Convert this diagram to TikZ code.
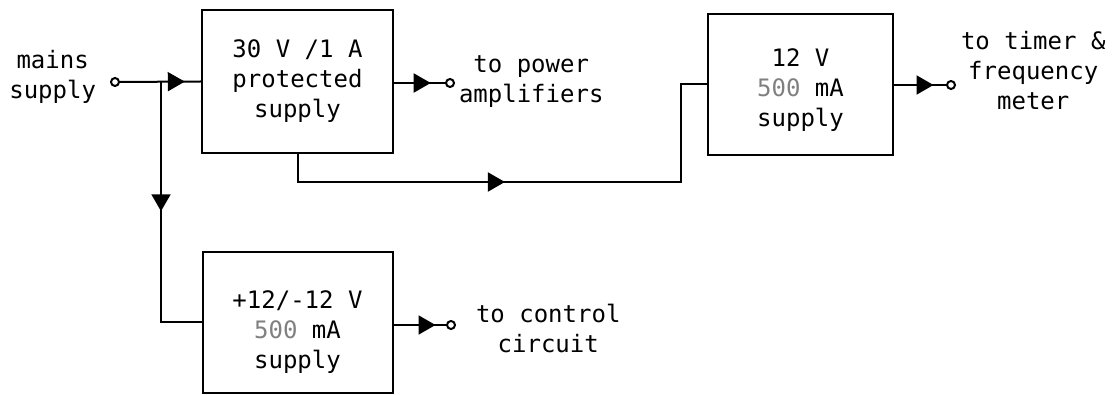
\documentclass[tikz,border=0pt]{standalone}
\usepackage{fontspec}
\setmonofont{DejaVu Sans Mono}
\usetikzlibrary{arrows.meta,decorations.markings}
% text of a block, drawn a little lower than the block's middle
\newcommand{\lowtext}[2]{\raisebox{-#1}[\height][\depth]{\begin{tabular}{@{}c@{}}#2\end{tabular}}}
\begin{document}
\begin{tikzpicture}[x=0.5pt,y=-0.5pt, line width=1pt,
  every node/.style={font=\ttfamily\fontsize{12}{15}\selectfont},
  blk/.style={draw,align=center,inner sep=0pt},
  term/.style={draw,circle,fill=white,inner sep=0pt,minimum size=4pt},
  lbl/.style={align=center,inner sep=0pt},
  flow/.style={postaction={decorate},decoration={markings,
    mark=at position #1 with {\arrow{Triangle[length=8.5pt,width=9.5pt]}}}}]
\useasboundingbox (0,0) rectangle (1116,395);
% supply blocks
\node[blk,minimum width=95.5pt,minimum height=71.5pt] (p1) at (297.5,81.5) {30 V /1 A\\protected\\supply};
\node[blk,minimum width=92.5pt,minimum height=70.5pt] (p2) at (800.5,84.5) {\lowtext{3.25pt}{12 V\\{\color{black!50}500} mA\\supply}};
\node[blk,minimum width=95pt,minimum height=70.5pt] (p3) at (297.5,322.5) {\lowtext{5pt}{+12/-12 V\\{\color{black!50}500} mA\\supply}};
% terminals
\node[term] (tin) at (115,82) {};
\node[term] (t1) at (450,83) {};
\node[term] (t2) at (951,85) {};
\node[term] (t3) at (451,325) {};
\coordinate (jn) at (161,82);
\coordinate (bend) at (681,182);
% labels
\node[lbl,anchor=east] (mns) at (97,77) {mains\\supply};
\node[lbl,anchor=west] (pwr) at (458,82) {to power\\amplifiers};
\node[lbl,anchor=west] (tmr) at (960,71) {to timer \&\\frequency\\meter};
\node[lbl,anchor=west] (ctl) at (475,328) {to control\\circuit};
% wiring
\draw[flow=0.8] (tin) -- (p1.west);
\draw[flow=0.46] (jn) |- (p3.west);
\draw[flow=0.44] (p1.south) |- (bend) |- (p2.west);
\draw[flow=0.72] (p1.east |- t1) -- (t1);
\draw[flow=0.76] (p2.east |- t2) -- (t2);
\draw[flow=0.8] (p3.east |- t3) -- (t3);
\end{tikzpicture}
\end{document}
